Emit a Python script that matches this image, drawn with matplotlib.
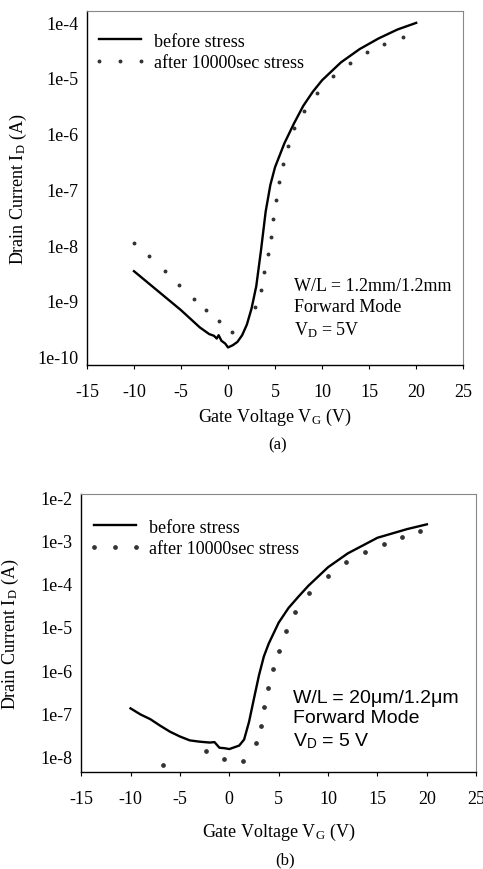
import matplotlib
matplotlib.use('Agg')
import matplotlib.pyplot as plt

# fonts: Times-like serif, Arial-like sans for the (b) annotation
plt.rcParams['font.family'] = ['Liberation Serif', 'DejaVu Serif']
plt.rcParams['mathtext.fontset'] = 'custom'
plt.rcParams['mathtext.rm'] = 'Liberation Serif'
plt.rcParams['mathtext.it'] = 'Liberation Serif'
plt.rcParams['mathtext.sf'] = 'Liberation Sans'

# ---- (a) W/L = 1.2mm/1.2mm ----
a_before_vg = [-10, -7.5, -5, -3, -2, -1.5, -1.2, -1, -0.7, -0.3, 0, 0.5, 1, 1.5, 2,
               2.5, 3, 3.5, 4, 4.5, 5, 6, 7, 8, 9, 10, 12, 14, 16, 18, 20]
a_before_log = [-8.47, -8.82, -9.17, -9.48, -9.60, -9.63, -9.68, -9.62, -9.72, -9.77, -9.84, -9.80,
                -9.74, -9.62, -9.43, -9.14, -8.74, -8.10, -7.40, -6.92, -6.60, -6.17, -5.82,
                -5.50, -5.25, -5.04, -4.72, -4.48, -4.29, -4.13, -4.01]
a_after_vg = [-10.0, -8.44, -6.67, -5.16, -3.67, -2.33, -0.95, 0.40, 2.88, 3.51, 3.87, 4.22,
              4.57, 4.82, 5.14, 5.46, 5.82, 6.35, 7.06, 8.05, 9.47, 11.13, 12.97, 14.78,
              16.63, 18.58]
a_after_log = [-7.96, -8.19, -8.46, -8.72, -8.97, -9.16, -9.36, -9.56, -9.12, -8.81, -8.49,
               -8.17, -7.85, -7.53, -7.20, -6.87, -6.54, -6.23, -5.90, -5.60, -5.27, -4.97,
               -4.73, -4.54, -4.39, -4.26]

# ---- (b) W/L = 20um/1.2um ----
b_before_vg = [-10, -9, -8, -7, -6, -5, -4, -3, -2, -1.5, -1, -0.5, 0, 0.5, 1, 1.5, 2,
               2.5, 3, 3.5, 4, 5, 6, 7, 8, 10, 12, 15, 18, 20]
b_before_log = [-6.88, -7.02, -7.13, -7.28, -7.42, -7.53, -7.62, -7.65, -7.67, -7.66, -7.79,
                -7.80, -7.82, -7.78, -7.74, -7.60, -7.19, -6.65, -6.12, -5.68, -5.38, -4.90,
                -4.56, -4.30, -4.05, -3.62, -3.30, -2.94, -2.74, -2.63]
b_after_vg = [-6.72, -2.37, -0.49, 1.40, 2.71, 3.22, 3.52, 3.89, 4.46, 5.07, 5.71, 6.65,
              8.06, 10.02, 11.80, 13.75, 15.64, 17.49, 19.34]
b_after_log = [-8.19, -7.87, -8.05, -8.09, -7.69, -7.28, -6.85, -6.41, -5.98, -5.55, -5.10,
               -4.65, -4.22, -3.82, -3.50, -3.27, -3.08, -2.92, -2.78]

x_ticks = [-15, -10, -5, 0, 5, 10, 15, 20, 25]
a_yticks = [-10, -9, -8, -7, -6, -5, -4]
b_yticks = [-8, -7, -6, -5, -4, -3, -2]
legend_labels = ['before stress', 'after 10000sec stress']

FS = 13


def style_axes(ax, yticks, ylim):
    ax.set_yscale('log')
    ax.set_xlim(-15, 25)
    ax.set_ylim(ylim)
    ax.set_xticks(x_ticks)
    ax.set_xticklabels([str(t) for t in x_ticks])
    ax.set_yticks([10.0 ** p for p in yticks])
    ax.set_yticklabels(['1e%d' % p for p in yticks])
    ax.minorticks_off()
    ax.tick_params(axis='both', labelsize=FS, length=3, width=0.8, direction='out')
    ax.tick_params(axis='y', length=0, pad=6)
    ax.tick_params(axis='x', pad=10)
    for s in ['top', 'right']:
        ax.spines[s].set_color('#888888')
        ax.spines[s].set_linewidth(0.8)
    for s in ['left', 'bottom']:
        ax.spines[s].set_linewidth(1.0)


fig = plt.figure(figsize=(4.83, 8.70), dpi=100)

# (a)
ax1 = fig.add_axes([0.180, 0.579, 0.779, 0.407])
ax1.plot(a_before_vg, [10.0 ** v for v in a_before_log], color='black', lw=1.7)
ax1.plot(a_after_vg, [10.0 ** v for v in a_after_log], ls='none', marker='o', ms=1.8,
         color='#333333')
style_axes(ax1, a_yticks, (10 ** -10.16, 10 ** -3.8))
ax1.legend(legend_labels, loc='upper left', bbox_to_anchor=(-0.025, 0.985), frameon=False,
           fontsize=FS, handlelength=2.9, handletextpad=0.45, labelspacing=0.25,
           numpoints=3)
ax1.text(0.55, 0.25, 'W/L = 1.2mm/1.2mm\nForward Mode\nV$_\\mathrm{D}$ = 5V',
         transform=ax1.transAxes, fontsize=FS, va='top', ha='left', linespacing=1.3)
ax1.set_ylabel('Drain Current I$_\\mathrm{D}$ (A)', fontsize=FS, labelpad=6)
ax1.set_xlabel('Gate Voltage V$_\\mathrm{G}$ (V)', fontsize=FS, labelpad=4)
fig.text(0.575, 1 - 445 / 870, '(a)', ha='center', va='center', fontsize=12)

# (b)
ax2 = fig.add_axes([0.168, 0.1115, 0.818, 0.3195])
ax2.plot(b_before_vg, [10.0 ** v for v in b_before_log], color='black', lw=1.7)
ax2.plot(b_after_vg, [10.0 ** v for v in b_after_log], ls='none', marker='o', ms=2.4,
         color='#333333')
style_axes(ax2, b_yticks, (10 ** -8.35, 10 ** -1.93))
ax2.legend(legend_labels, loc='upper left', bbox_to_anchor=(-0.022, 0.97), frameon=False,
           fontsize=FS, handlelength=2.9, handletextpad=0.45, labelspacing=0.25,
           numpoints=3)
ax2.text(0.535, 0.30, 'W/L = 20\u03bcm/1.2\u03bcm\nForward Mode\nV$_\\mathsf{D}$ = 5 V',
         transform=ax2.transAxes, fontsize=14, va='top', ha='left', linespacing=1.27,
         family=['Liberation Sans', 'DejaVu Sans'])
ax2.set_ylabel('Drain Current I$_\\mathrm{D}$ (A)', fontsize=FS, labelpad=14)
ax2.set_xlabel('Gate Voltage V$_\\mathrm{G}$ (V)', fontsize=FS, labelpad=10)
fig.text(0.59, 1 - 860 / 870, '(b)', ha='center', va='center', fontsize=12)

fig.savefig('out.png', dpi=100)
